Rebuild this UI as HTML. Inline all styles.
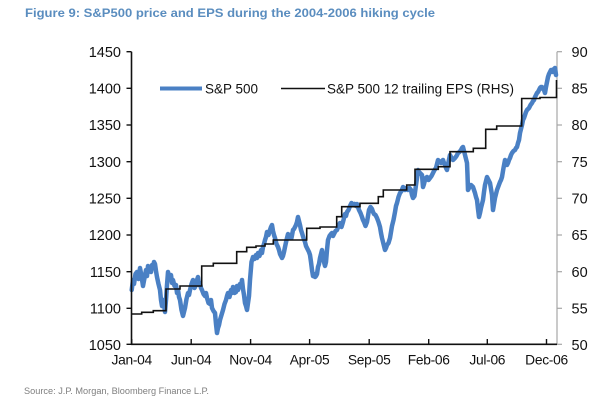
<!DOCTYPE html>
<html>
<head>
<meta charset="utf-8">
<style>
html,body{margin:0;padding:0;background:#fff;}
svg{display:block;}
text{font-family:"Liberation Sans",Arial,sans-serif;}
</style>
</head>
<body>
<svg width="611" height="407" viewBox="0 0 611 407" xmlns="http://www.w3.org/2000/svg">
<rect width="611" height="407" fill="#fff"/>
<!-- Title -->
<text x="25" y="17" font-size="11.5" font-weight="bold" fill="#5a8dbf" textLength="410" lengthAdjust="spacingAndGlyphs">Figure 9: S&amp;P500 price and EPS during the 2004-2006 hiking cycle</text>

<!-- Right axis (gray) -->
<line x1="557" y1="51.7" x2="557" y2="344.3" stroke="#a6a6a6" stroke-width="1.2"/>
<g stroke="#a6a6a6" stroke-width="1.2">
<line x1="557" y1="51.7" x2="562" y2="51.7"/>
<line x1="557" y1="88.3" x2="562" y2="88.3"/>
<line x1="557" y1="125" x2="562" y2="125"/>
<line x1="557" y1="161.7" x2="562" y2="161.7"/>
<line x1="557" y1="198.3" x2="562" y2="198.3"/>
<line x1="557" y1="235" x2="562" y2="235"/>
<line x1="557" y1="271.7" x2="562" y2="271.7"/>
<line x1="557" y1="308.3" x2="562" y2="308.3"/>
<line x1="557" y1="344.3" x2="562" y2="344.3"/>
</g>
<g font-size="14.5" fill="#111">
<text x="571.5" y="57">90</text>
<text x="571.5" y="93.5">85</text>
<text x="571.5" y="130.2">80</text>
<text x="571.5" y="166.9">75</text>
<text x="571.5" y="203.5">70</text>
<text x="571.5" y="240.2">65</text>
<text x="571.5" y="276.9">60</text>
<text x="571.5" y="313.5">55</text>
<text x="571.5" y="350">50</text>
</g>

<!-- Left axis labels -->
<g font-size="14.5" fill="#111" text-anchor="end">
<text x="121" y="57">1450</text>
<text x="121" y="93.5">1400</text>
<text x="121" y="130.2">1350</text>
<text x="121" y="166.9">1300</text>
<text x="121" y="203.5">1250</text>
<text x="121" y="240.2">1200</text>
<text x="121" y="276.9">1150</text>
<text x="121" y="313.5">1100</text>
<text x="121" y="350">1050</text>
</g>

<!-- X labels -->
<g font-size="13.8" fill="#111" text-anchor="middle" letter-spacing="-0.3">
<text x="131.7" y="364.5">Jan-04</text>
<text x="191.2" y="364.5">Jun-04</text>
<text x="250.6" y="364.5">Nov-04</text>
<text x="309.6" y="364.5">Apr-05</text>
<text x="369.2" y="364.5">Sep-05</text>
<text x="428.7" y="364.5">Feb-06</text>
<text x="487.3" y="364.5">Jul-06</text>
<text x="546.5" y="364.5">Dec-06</text>
</g>

<!-- S&P 500 series -->
<polyline fill="none" stroke="#4a80c4" stroke-width="4.5" stroke-linejoin="round" stroke-linecap="round" points="131.7,290 133,280 134,284 135.5,274 137,272 138.5,279 140,268 141.5,276 143,286 144.5,278 146,270 147,276 148,266 149.5,271 151,272 152,265 153,268 154,262 155,264 156,271 157,277 158.5,284 160,290 161,300 162,306 163.5,300 165,312 166,300 167,285 168,272 169.5,278 171,275 172,283 173,280 174.5,286 176,285 177,293 178,290 179,297 180,300 181.5,310 183,316 184,312 185,308 186.5,299 188,293 189,295 190,290 191.5,284 193,280 194.5,288 196,285 197,280 198,277 199,285 200,283 201,288 202,290 203.5,294 205,296 206,293 207,298 208.5,303 210,304 211,300 212,308 213.5,311 215,313 216,324 217,333 218,328 219,325 220,320 221.5,315 223,310 224.5,304 226,300 227,296 228,293 229.5,297 231,290 232,293 233,287 234.5,293 236,292 237,286 238,290 239,287 240,284 241,286 242,280 243,289 244,295 245,303 246,306 247,310 248,303 249,296 250,280 251.5,262 253,257 254.5,259 256,255 257,258 258,253 259.5,256 261,250 262,253 263,247 264,244 265,240 266,237 267,232 268.5,235 270,230 271,227 272,225 273,231 274,235 275,238 276.5,244 278,247 279,250 280,254 281,256 282,258 283,256 284,252 285,247 286.5,240 288,234 289,238 290,235 291.5,238 293,230 294,229 295,227 296,225 297,222 298,217 299,221 300,225 301,230 302,233 303.5,238 305,242 306,246 307,248 308,250 309,252 310,255 311,262 312,270 313,276 314,274 315,277 316,276 317,274 318,267 319,264 320,258 321,254 322,250 323,256 324,262 325,266 326,262 327,250 328,240 329.5,236 331,234 332,233 333,236 334,234 335.5,231 337,230 338.5,226 340,223 341.5,227 343,222 344,218 345,214 346,216 347,212 348.5,210 350,206 351.5,203 353,205 354.5,204 356,206 357,204 358,207 359,210 360.5,213 362,217 363,220 364,222 365.5,226 367,222 368,216 369,210 370.5,207 372,209 373,212 374,214 375.5,215 377,218 378.5,222 380,227 381,233 382,238 383.5,244 385,250 386,248 387,245 388.5,243 390,238 391,232 392,226 393.5,220 395,212 396,206 397,203 398.5,197 400,193 401.5,191 403,187 404,189 405,190 406.5,188 408,190 409.5,188 411,190 412,195 413,198 414.5,196 416,185 417,178 418,170 419,172 420,173 421,174 422,175 423,187 424,184 425,180 426,178 427,177 428.5,180 430,178 431.5,176 433,173 434.5,170 436,168 437,164 438,160 439.5,162 441,163 442,161 443,160 444,163 445,165 446,168 447,170 448.5,162 450,155 451.5,158 453,160 454,159 455,158 456.5,156 458,153 459.5,152 461,150 462,148 463,147 464,151 465,155 466,159 467,163 467.5,175 468,190 469.5,187 471,185 472,186 473,187 474,190 475,193 476,197 477,200 478,209 479,217 480,213 481,208 482,204 483,200 484,192 485,185 486,181 487,177 488.5,180 490,183 491,189 492,195 492.5,203 493,210 494,204 495,198 496,194 497,190 498.5,186 500,182 501,180 502,177 503.5,168 505,160 506,163 507,165 507.5,164 508,163 509,160 510,158 511,155 512,153 513.5,151 515,150 516,148 517,147 518,143 519,140 520,133 521,129 522,125 523,120 524,118 525,115 526,112 527,110 528,109 529,108 530.5,105 532,103 533,101 534,100 535,97 536,95 537,93 538,92 539,90 540,88 541,87 542,87 543,89 544,90 545,93 546,87 547,82 548,77 549,74 550,72 551,70 552,70 553,72 554,69 555,68 556,75"/>

<!-- EPS step line -->
<path fill="none" stroke="#111" stroke-width="1.6" d="M131.7,314 H141.7 V312.3 H153.3 V310.7 H166 V289 H180 V286 H201.7 V266 H213.3 V263.3 H236.7 V251.7 H246.7 V247.3 H256 V246 H265 V244 H273.3 V240 H306.7 V228.3 H320 V227 H336.7 V216.7 H341.7 V206.7 H360 V203.3 H378.3 V196.7 H383.3 V190 H406.7 V185 H415 V169.3 H438.3 V166.7 H450 V151.7 H473.3 V148.3 H485.7 V129.3 H496.7 V126 H521.7 V98.5 H540 V97.5 H556.5 V80"/>

<!-- Left axis (black) -->
<line x1="131.5" y1="51.7" x2="131.5" y2="344.3" stroke="#111" stroke-width="1.6"/>
<g stroke="#111" stroke-width="1.4">
<line x1="126.5" y1="51.7" x2="131.5" y2="51.7"/>
<line x1="126.5" y1="88.3" x2="131.5" y2="88.3"/>
<line x1="126.5" y1="125" x2="131.5" y2="125"/>
<line x1="126.5" y1="161.7" x2="131.5" y2="161.7"/>
<line x1="126.5" y1="198.3" x2="131.5" y2="198.3"/>
<line x1="126.5" y1="235" x2="131.5" y2="235"/>
<line x1="126.5" y1="271.7" x2="131.5" y2="271.7"/>
<line x1="126.5" y1="308.3" x2="131.5" y2="308.3"/>
<line x1="126.5" y1="344.3" x2="131.5" y2="344.3"/>
</g>
<!-- X axis -->
<line x1="131" y1="344.3" x2="557" y2="344.3" stroke="#111" stroke-width="1.6"/>
<g stroke="#111" stroke-width="1.4">
<line x1="131.7" y1="339" x2="131.7" y2="344.3"/>
<line x1="191.2" y1="339" x2="191.2" y2="344.3"/>
<line x1="250.6" y1="339" x2="250.6" y2="344.3"/>
<line x1="309.6" y1="339" x2="309.6" y2="344.3"/>
<line x1="369.2" y1="339" x2="369.2" y2="344.3"/>
<line x1="428.7" y1="339" x2="428.7" y2="344.3"/>
<line x1="487.3" y1="339" x2="487.3" y2="344.3"/>
<line x1="546.5" y1="339" x2="546.5" y2="344.3"/>
</g>

<!-- Legend -->
<line x1="160" y1="88.5" x2="202" y2="88.5" stroke="#4a80c4" stroke-width="4"/>
<text x="205" y="93.5" font-size="13.5" fill="#111" textLength="53" lengthAdjust="spacingAndGlyphs">S&amp;P 500</text>
<line x1="281" y1="88.5" x2="325" y2="88.5" stroke="#111" stroke-width="1.6"/>
<text x="327" y="93.5" font-size="13.5" fill="#111" textLength="187" lengthAdjust="spacingAndGlyphs">S&amp;P 500 12 trailing EPS (RHS)</text>

<!-- Source -->
<text x="24" y="394" font-size="9" fill="#7f7f7f" textLength="185" lengthAdjust="spacingAndGlyphs">Source: J.P. Morgan, Bloomberg Finance L.P.</text>
</svg>
</body>
</html>
